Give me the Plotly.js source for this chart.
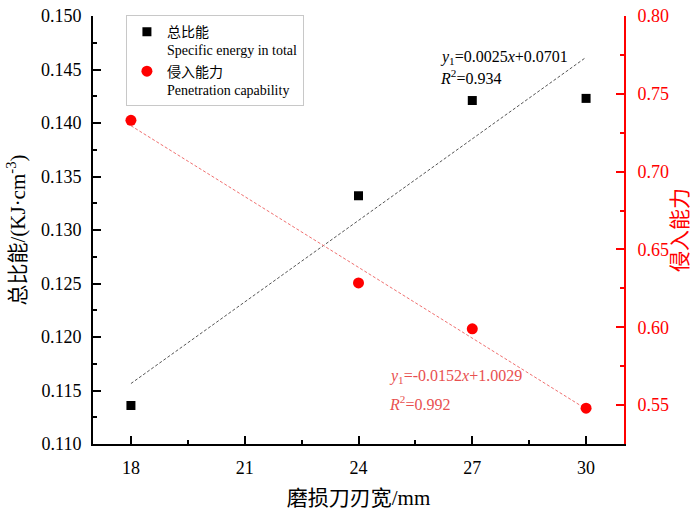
<!DOCTYPE html>
<html><head><meta charset="utf-8">
<script src="https://cdn.plot.ly/plotly-3.0.1.min.js"></script>
<style>html,body{margin:0;padding:0;background:#fff}#chart{width:692px;height:510px}</style>
</head><body><div id="chart"></div><script>
// ---- data ----
const widths = [18, 24, 27, 30];
const energy = [0.1136, 0.1332, 0.1421, 0.1423];
const penetration = [0.733, 0.6285, 0.599, 0.548];
const seriesNames = ['总比能<br>Specific energy in total', '侵入能力<br>Penetration capability'];
const fitText1 = ['<i>y</i><sub>1</sub>=0.0025<i>x</i>+0.0701', '<i>R</i><sup>2</sup>=0.934'];
const fitText2 = ['<i>y</i><sub>1</sub>=-0.0152<i>x</i>+1.0029', '<i>R</i><sup>2</sup>=0.992'];
const xTickVals = [18, 21, 24, 27, 30];
const xTitle = '磨损刀刃宽/mm';
const y1Title = '总比能/(KJ·cm<sup>-3</sup>)';
const y2Title = '侵入能力';

// least-squares trend line through the data
function linfit(xs, ys) {
  const n = xs.length;
  const mx = xs.reduce((a, b) => a + b, 0) / n;
  const my = ys.reduce((a, b) => a + b, 0) / n;
  let sxy = 0, sxx = 0;
  for (let i = 0; i < n; i++) { sxy += (xs[i] - mx) * (ys[i] - my); sxx += (xs[i] - mx) ** 2; }
  const k = sxy / sxx, b = my - k * mx;
  const x0 = Math.min(...xs), x1 = Math.max(...xs);
  return { x: [x0, x1], y: [k * x0 + b, k * x1 + b] };
}
const fitE = linfit(widths, energy);
const fitP = linfit(widths, penetration);

const SERIF = 'Liberation Serif, Noto Sans CJK SC, serif';
const RED = '#ff0000';
const FITRED = 'rgb(232,80,80)';

const traces = [
  { x: fitE.x, y: fitE.y, mode: 'lines', yaxis: 'y', showlegend: false, hoverinfo: 'skip',
    line: { color: '#555', width: 1, dash: '3px,2px' } },
  { x: fitP.x, y: fitP.y, mode: 'lines', yaxis: 'y2', showlegend: false, hoverinfo: 'skip',
    line: { color: '#f07070', width: 1, dash: '3px,2px' } },
  { x: widths, y: energy, mode: 'markers', name: seriesNames[0], yaxis: 'y',
    marker: { symbol: 'square', size: 9, color: '#000' } },
  { x: widths, y: penetration, mode: 'markers', name: seriesNames[1], yaxis: 'y2',
    marker: { symbol: 'circle', size: 11, color: RED } }
];

const layout = {
  width: 692, height: 510,
  margin: { l: 93, r: 68, t: 16, b: 66 },
  paper_bgcolor: '#fff', plot_bgcolor: '#fff',
  font: { family: SERIF, color: '#000', size: 18 },
  xaxis: {
    showgrid: false, zeroline: false, showline: true, linewidth: 2,
    ticks: 'inside', ticklen: 8, tickwidth: 2,
    range: [17, 31], tickmode: 'array', tickvals: xTickVals, linecolor: '#000', tickcolor: '#000',
    tickfont: { family: SERIF, size: 18, color: '#000' },
    minor: { ticks: 'inside', ticklen: 4, tickwidth: 2, dtick: 1.5, tick0: 16.5, tickcolor: '#000' },
    ticklabelstandoff: 6,
    title: { text: xTitle, font: { family: SERIF, size: 21, color: '#000' }, standoff: 14 }
  },
  yaxis: {
    showgrid: false, zeroline: false, showline: true, linewidth: 2,
    ticks: 'inside', ticklen: 8, tickwidth: 2,
    range: [0.110, 0.150], dtick: 0.005, tick0: 0.11, tickformat: '.3f',
    linecolor: '#000', tickcolor: '#000',
    tickfont: { family: SERIF, size: 18, color: '#000' },
    minor: { ticks: 'inside', ticklen: 4, tickwidth: 2, dtick: 0.0025, tick0: 0.11, tickcolor: '#000' },
    ticklabelstandoff: 6,
    title: { text: y1Title, font: { family: SERIF, size: 21, color: '#000' }, standoff: 10 }
  },
  yaxis2: {
    showgrid: false, zeroline: false, showline: true, linewidth: 2,
    ticks: 'inside', ticklen: 8, tickwidth: 2,
    overlaying: 'y', side: 'right', range: [0.525, 0.80], dtick: 0.05, tick0: 0.55, tickformat: '.2f',
    linecolor: RED, tickcolor: RED, tickfont: { family: SERIF, size: 18, color: RED },
    minor: { ticks: 'inside', ticklen: 4, tickwidth: 2, dtick: 0.025, tick0: 0.525, tickcolor: RED },
    ticklabelstandoff: 8,
    title: { text: y2Title, font: { family: SERIF, size: 21, color: RED }, standoff: 6 }
  },
  legend: {
    x: 0.062, y: 1.002, xanchor: 'left', yanchor: 'top', valign: 'top',
    bgcolor: '#fff', bordercolor: '#c8c8c8', borderwidth: 1,
    font: { family: SERIF, size: 14, color: '#000' }, tracegroupgap: 0
  },
  annotations: [
    { xref: 'paper', yref: 'paper', x: 0.65, y: 0.904, xanchor: 'left', yanchor: 'middle', showarrow: false,
      text: fitText1[0], font: { family: SERIF, size: 16, color: '#000' } },
    { xref: 'paper', yref: 'paper', x: 0.65, y: 0.858, xanchor: 'left', yanchor: 'middle', showarrow: false,
      text: fitText1[1], font: { family: SERIF, size: 16, color: '#000' } },
    { xref: 'paper', yref: 'paper', x: 0.5537, y: 0.1585, xanchor: 'left', yanchor: 'middle', showarrow: false,
      text: fitText2[0], font: { family: SERIF, size: 16, color: FITRED } },
    { xref: 'paper', yref: 'paper', x: 0.5537, y: 0.096, xanchor: 'left', yanchor: 'middle', showarrow: false,
      text: fitText2[1], font: { family: SERIF, size: 16, color: FITRED } }
  ]
};

Plotly.newPlot('chart', traces, layout, { displayModeBar: false, staticPlot: true });
</script></body></html>
